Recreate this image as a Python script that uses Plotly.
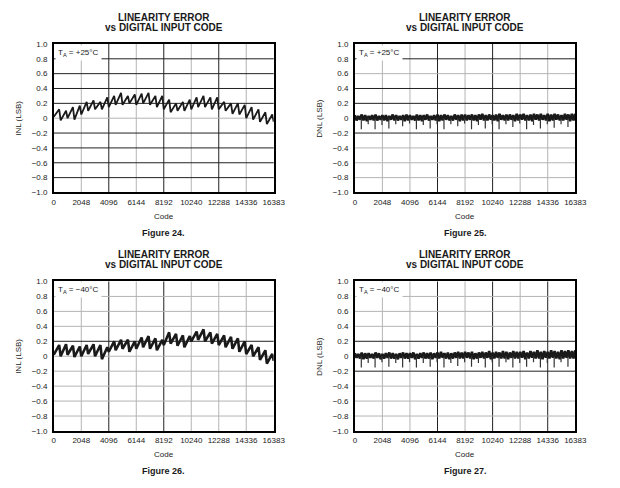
import plotly.graph_objects as go

# ---------------- data ----------------
code_ticks = [0, 2048, 4096, 6144, 8192, 10240, 12288, 14336, 16383]
code_labels = ["0", "2048", "4096", "6144", "8192", "10240", "12288", "14336", "16383"]
y_ticks = [1.0, 0.8, 0.6, 0.4, 0.2, 0.0, -0.2, -0.4, -0.6, -0.8, -1.0]
y_labels = ["1.0", "0.8", "0.6", "0.4", "0.2", "0", "\u22120.2", "\u22120.4", "\u22120.6", "\u22120.8", "\u22121.0"]

# INL sawtooth: one tooth every 512 codes (start = low, peak = high)
tooth_start = [512 * k for k in range(32)]
tooth_peak_offset = 400
last_code = 16383

inl24_low = [0.02, -0.03, 0.00, -0.02, 0.05, 0.10, 0.12, 0.12,
             0.15, 0.18, 0.18, 0.20, 0.18, 0.20, 0.18, 0.15,
             0.12, 0.08, 0.10, 0.10, 0.12, 0.15, 0.15, 0.12,
             0.12, 0.10, 0.06, 0.05, 0.00, -0.02, -0.05, -0.08]
inl24_high = [0.12, 0.10, 0.15, 0.17, 0.22, 0.24, 0.22, 0.28,
              0.30, 0.34, 0.30, 0.32, 0.33, 0.34, 0.30, 0.30,
              0.25, 0.20, 0.22, 0.25, 0.28, 0.30, 0.28, 0.28,
              0.22, 0.20, 0.20, 0.18, 0.15, 0.12, 0.08, 0.05]
inl24_end = -0.05

inl26_low = [0.02, 0.00, 0.02, -0.01, 0.00, 0.03, 0.00, -0.04,
             0.06, 0.08, 0.10, 0.06, 0.10, 0.12, 0.10, 0.08,
             0.15, 0.17, 0.14, 0.12, 0.20, 0.22, 0.20, 0.17,
             0.15, 0.12, 0.10, 0.06, 0.03, 0.00, -0.05, -0.10]
inl26_high = [0.15, 0.16, 0.14, 0.13, 0.15, 0.16, 0.15, 0.12,
              0.20, 0.22, 0.22, 0.20, 0.25, 0.27, 0.24, 0.22,
              0.32, 0.30, 0.28, 0.27, 0.33, 0.36, 0.32, 0.30,
              0.28, 0.26, 0.24, 0.20, 0.15, 0.12, 0.08, 0.03]
inl26_end = -0.06

# DNL: dense band (alternating high/low samples) plus downward spikes
band_codes_hi = list(range(0, 16384, 256)) + [16383]
band_codes_lo = list(range(128, 16384, 256))

dnl25_hi = [0.04, 0.03, 0.05, 0.04, 0.03, 0.04, 0.05, 0.03, 0.04, 0.04, 0.03, 0.05, 0.04, 0.03, 0.04, 0.05,
            0.04, 0.03, 0.05, 0.04, 0.04, 0.05, 0.03, 0.04, 0.05, 0.04, 0.05, 0.04, 0.03, 0.05, 0.04, 0.05,
            0.05, 0.04, 0.05, 0.04, 0.05, 0.06, 0.04, 0.05, 0.04, 0.05, 0.06, 0.04, 0.05, 0.05, 0.04, 0.06,
            0.05, 0.06, 0.04, 0.05, 0.06, 0.05, 0.06, 0.04, 0.06, 0.05, 0.06, 0.05, 0.04, 0.06, 0.05, 0.06, 0.06]
dnl25_lo = [-0.03, -0.02, -0.03, -0.04, -0.02, -0.03, -0.03, -0.02,
            -0.03, -0.04, -0.02, -0.03, -0.03, -0.02, -0.04, -0.03,
            -0.02, -0.03, -0.03, -0.04, -0.02, -0.03, -0.02, -0.03,
            -0.04, -0.03, -0.02, -0.03, -0.03, -0.02, -0.04, -0.03,
            -0.03, -0.02, -0.03, -0.04, -0.02, -0.03, -0.03, -0.02,
            -0.03, -0.04, -0.02, -0.03, -0.03, -0.02, -0.04, -0.03,
            -0.02, -0.03, -0.03, -0.04, -0.02, -0.03, -0.02, -0.03,
            -0.04, -0.03, -0.02, -0.03, -0.03, -0.02, -0.04, -0.03]

dnl27_hi = [0.04, 0.03, 0.05, 0.04, 0.04, 0.03, 0.05, 0.04, 0.03, 0.04, 0.05, 0.04, 0.03, 0.04, 0.05, 0.04,
            0.04, 0.05, 0.03, 0.04, 0.05, 0.04, 0.05, 0.04, 0.05, 0.06, 0.04, 0.05, 0.04, 0.05, 0.06, 0.05,
            0.06, 0.05, 0.06, 0.04, 0.05, 0.06, 0.05, 0.07, 0.05, 0.06, 0.05, 0.07, 0.06, 0.05, 0.07, 0.06,
            0.06, 0.07, 0.05, 0.07, 0.06, 0.08, 0.06, 0.07, 0.06, 0.08, 0.07, 0.06, 0.08, 0.07, 0.08, 0.07, 0.08]
dnl27_lo = [-0.02, -0.03, -0.04, -0.03, -0.02, -0.03, -0.02, -0.04,
            -0.03, -0.02, -0.03, -0.03, -0.04, -0.02, -0.03, -0.03,
            -0.02, -0.04, -0.03, -0.02, -0.03, -0.03, -0.04, -0.02,
            -0.03, -0.02, -0.03, -0.04, -0.03, -0.02, -0.03, -0.03,
            -0.02, -0.03, -0.04, -0.03, -0.02, -0.03, -0.02, -0.04,
            -0.03, -0.02, -0.03, -0.03, -0.04, -0.02, -0.03, -0.03,
            -0.02, -0.04, -0.03, -0.02, -0.03, -0.03, -0.04, -0.02,
            -0.03, -0.02, -0.03, -0.04, -0.03, -0.02, -0.03, -0.03]

spike_codes = list(range(480, 16383, 512))
dnl25_spikes = [-0.15, -0.08, -0.15, -0.09, -0.14, -0.08, -0.11, -0.07,
                -0.15, -0.09, -0.14, -0.08, -0.15, -0.08, -0.11, -0.07,
                -0.15, -0.09, -0.14, -0.08, -0.15, -0.08, -0.12, -0.07,
                -0.15, -0.09, -0.14, -0.08, -0.13, -0.08, -0.12]
dnl27_spikes = [-0.15, -0.09, -0.15, -0.08, -0.14, -0.09, -0.15, -0.08,
                -0.15, -0.09, -0.14, -0.08, -0.15, -0.09, -0.13, -0.08,
                -0.14, -0.09, -0.15, -0.08, -0.14, -0.08, -0.15, -0.09,
                -0.14, -0.08, -0.15, -0.09, -0.15, -0.08, -0.14]

panels = [
    dict(kind="INL", temp="+25\u00b0C", fig="Figure 24.", low=inl24_low, high=inl24_high, end=inl24_end, width=1.8),
    dict(kind="DNL", temp="+25\u00b0C", fig="Figure 25.", hi=dnl25_hi, lo=dnl25_lo, spikes=dnl25_spikes),
    dict(kind="INL", temp="\u221240\u00b0C", fig="Figure 26.", low=inl26_low, high=inl26_high, end=inl26_end, width=2.6),
    dict(kind="DNL", temp="\u221240\u00b0C", fig="Figure 27.", hi=dnl27_hi, lo=dnl27_lo, spikes=dnl27_spikes),
]

# ---------------- layout geometry (paper fractions) ----------------
W, H = 620, 488
x_domains = [[53 / W, 278 / W], [361 / W, 586.5 / W]]
y_domains = [[1 - 192 / H, 1 - 40.7 / H], [1 - 435 / H, 1 - 282.7 / H]]
grid_x = [2048, 4096, 6144, 8192, 10240, 12288, 14336]
grid_y = [0.8, 0.6, 0.4, 0.2, 0.0, -0.2, -0.4, -0.6, -0.8]
dark_x = [[4096, 8192, 12288], [6144, 10240], [4096, 8192], [6144, 10240, 14336]]
dark_y = [[0.8, 0.6, 0.4, 0.2, -0.2, -0.4, -0.6, -0.8], [0.8, 0.4, 0.2, -0.2], [0.2], [0.2, -0.2]]

FONT = "Liberation Sans, Arial, Helvetica, sans-serif"
INK = "#1a1a1a"
LIGHT = "#b4b4b4"
DARK = "#222222"

fig = go.Figure()
layout = dict(
    width=W, height=H, margin=dict(l=0, r=0, t=0, b=0),
    paper_bgcolor="white", plot_bgcolor="white", showlegend=False,
    font=dict(family=FONT, size=8, color=INK),
)
annotations = []
shapes = []

for i, p in enumerate(panels):
    row, col = divmod(i, 2)
    n = "" if i == 0 else str(i + 1)
    xa, ya = "x" + n, "y" + n
    xd, yd = x_domains[col], y_domains[row]

    layout["xaxis" + n] = dict(
        domain=xd, anchor=ya, range=[0, last_code], tickmode="array",
        tickvals=code_ticks, ticktext=code_labels, showgrid=False,
        showline=True, mirror=True, linecolor="black", linewidth=1.5,
        ticks="", zeroline=False, ticklabelstandoff=1,
        tickfont=dict(family=FONT, size=8, color=INK),
    )
    layout["yaxis" + n] = dict(
        domain=yd, anchor=xa, range=[-1, 1], tickmode="array",
        tickvals=y_ticks, ticktext=y_labels, showgrid=False,
        showline=True, mirror=True, linecolor="black", linewidth=1.5,
        ticks="", zeroline=False, ticklabelstandoff=3,
        tickfont=dict(family=FONT, size=8, color=INK),
    )

    # grid lines (light and dark)
    for c in grid_x:
        col_ = DARK if c in dark_x[i] else LIGHT
        shapes.append(dict(type="line", xref=xa, yref=ya + " domain", x0=c, x1=c, y0=0, y1=1,
                           line=dict(color=col_, width=1), layer="below"))
    for v in grid_y:
        col_ = DARK if v in dark_y[i] else LIGHT
        shapes.append(dict(type="line", xref=xa + " domain", yref=ya, x0=0, x1=1, y0=v, y1=v,
                           line=dict(color=col_, width=1), layer="below"))

    if p["kind"] == "INL":
        xs, ys = [], []
        for s, lo, hi in zip(tooth_start, p["low"], p["high"]):
            xs += [s, s + tooth_peak_offset]
            ys += [lo, hi]
        xs.append(last_code)
        ys.append(p["end"])
        fig.add_trace(go.Scatter(x=xs, y=ys, mode="lines", xaxis=xa, yaxis=ya,
                                 line=dict(color=INK, width=p["width"])))
    else:
        xs, ys = [], []
        for j, (c, v) in enumerate(zip(band_codes_hi, p["hi"])):
            xs.append(c)
            ys.append(v)
            if j < len(band_codes_lo):
                xs.append(band_codes_lo[j])
                ys.append(p["lo"][j])
        fig.add_trace(go.Scatter(x=xs, y=ys, mode="lines", xaxis=xa, yaxis=ya,
                                 line=dict(color=INK, width=2.6)))
        sx, sy = [], []
        for c, d in zip(spike_codes, p["spikes"]):
            sx += [c, c, None]
            sy += [0.0, d, None]
        fig.add_trace(go.Scatter(x=sx, y=sy, mode="lines", xaxis=xa, yaxis=ya,
                                 line=dict(color="#333333", width=1.2)))

    xc = (xd[0] + xd[1]) / 2
    top_px = (1 - yd[1]) * H
    bot_px = (1 - yd[0]) * H
    # titles
    annotations.append(dict(text="<b>LINEARITY ERROR</b>", xref="paper", yref="paper",
                            x=xc, y=1 - (top_px - 27) / H, showarrow=False,
                            font=dict(family=FONT, size=10, color=INK), xanchor="center", yanchor="middle"))
    annotations.append(dict(text="<b>vs DIGITAL INPUT CODE</b>", xref="paper", yref="paper",
                            x=xc, y=1 - (top_px - 17) / H, showarrow=False,
                            font=dict(family=FONT, size=10, color=INK), xanchor="center", yanchor="middle"))
    # x axis title
    annotations.append(dict(text="Code", xref="paper", yref="paper", x=xc,
                            y=1 - (bot_px + 24) / H, showarrow=False,
                            font=dict(family=FONT, size=8, color=INK), xanchor="center", yanchor="middle"))
    # figure caption
    annotations.append(dict(text="<b>" + p["fig"] + "</b>", xref="paper", yref="paper", x=xc,
                            y=1 - (bot_px + 41) / H, showarrow=False,
                            font=dict(family=FONT, size=9, color=INK), xanchor="center", yanchor="middle"))
    # y axis title
    annotations.append(dict(text=p["kind"] + " (LSB)", xref="paper", yref="paper",
                            x=(xd[0] * W - 36) / W, y=(yd[0] + yd[1]) / 2, textangle=-90,
                            showarrow=False, font=dict(family=FONT, size=8, color=INK),
                            xanchor="center", yanchor="middle"))
    # temperature label box
    annotations.append(dict(text="T<sub>A</sub> = " + p["temp"], xref=xa + " domain", yref=ya + " domain",
                            x=0, y=1, xshift=1, yshift=-1, xanchor="left", yanchor="top",
                            showarrow=False, bgcolor="white", borderpad=2,
                            font=dict(family=FONT, size=8, color=INK)))

layout["annotations"] = annotations
layout["shapes"] = shapes
fig.update_layout(**layout)
fig.write_html("out.html", config={"displayModeBar": False},
               post_script="document.body.style.margin='0';")
